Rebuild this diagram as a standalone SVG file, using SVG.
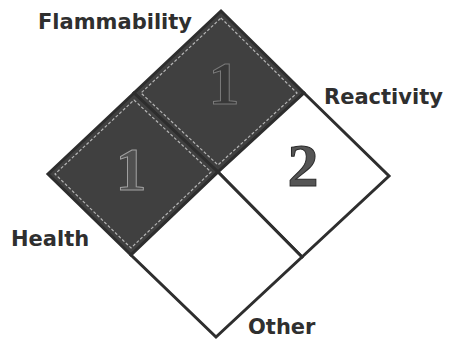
<svg xmlns="http://www.w3.org/2000/svg" width="457" height="341" viewBox="0 0 457 341">
<style>
.q{stroke:#2e2e2e;stroke-width:3;stroke-linejoin:miter}
.dark{fill:#404040}
.light{fill:#ffffff}
.inner{fill:none;stroke:#b5b5b5;stroke-width:1.2;stroke-dasharray:3 2}
.lbl{font-family:"DejaVu Sans",sans-serif;font-weight:bold;font-size:21px;fill:#2f2f2f}
.num{font-family:"Liberation Serif","Times New Roman",serif;font-size:62px;font-weight:bold;text-anchor:middle}
</style>
<rect width="457" height="341" fill="#ffffff"/>
<g id="flammability">
<polygon class="q dark" points="221,11 304,93 218,172 134,93"/>
<polygon class="inner" points="221,18 297,93 218,165 141,93"/>
<text class="num" x="224" y="104" fill="#383838" stroke="#7a7a7a" stroke-width="1">1</text>
</g>
<g id="health">
<polygon class="q dark" points="134,93 218,172 131,255 48,174"/>
<polygon class="inner" points="134,100 211,172 131,248 55,174"/>
<text class="num" x="131" y="190" fill="#505050" stroke="#a0a0a0" stroke-width="1">1</text>
</g>
<g id="reactivity">
<polygon class="q light" points="304,93 389,176 302,257 218,172"/>
<text class="num" x="303" y="186" fill="#555555" stroke="#2a2a2a" stroke-width="1">2</text>
</g>
<g id="other">
<polygon class="q light" points="218,172 302,257 216,337 131,255"/>
</g>
<g id="labels">
<text class="lbl" x="38" y="29">Flammability</text>
<text class="lbl" x="324" y="104">Reactivity</text>
<text class="lbl" x="11" y="246">Health</text>
<text class="lbl" x="248" y="334">Other</text>
</g>
</svg>
